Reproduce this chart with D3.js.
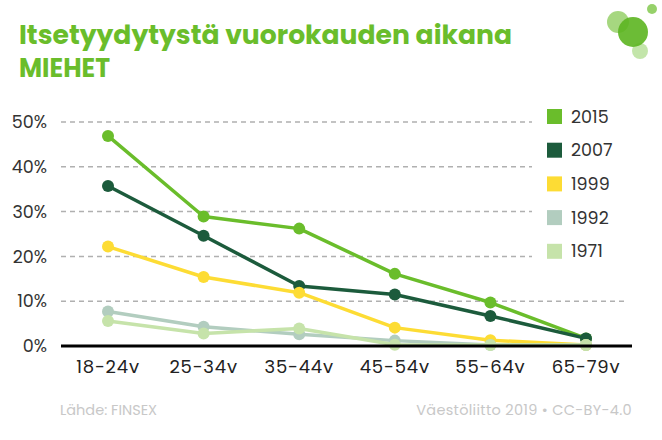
<!DOCTYPE html>
<html><head><meta charset="utf-8">
<script src="https://cdn.jsdelivr.net/npm/d3@7"></script>
<style>
html,body{margin:0;padding:0;background:#fff;}
svg{display:block;font-family:Poppins,Inter,"Noto Sans",sans-serif;}
</style></head>
<body>
<svg id="c" width="662" height="440"></svg>
<script>
const categories = ["18-24v","25-34v","35-44v","45-54v","55-64v","65-79v"];
const seriesNames = ["2015","2007","1999","1992","1971"];
const s2015 = [46.9, 28.9, 26.2, 16.1, 9.7, 1.7];
const s2007 = [35.7, 24.6, 13.4, 11.5, 6.7, 1.7];
const s1999 = [22.2, 15.4, 11.9, 4.1, 1.3, 0.2];
const s1992 = [7.7, 4.3, 2.6, 1.2, 0.2, 0.2];
const s1971 = [5.6, 2.8, 3.9, 0.3, 0.2, 0.2];
const yTicks = [0, 10, 20, 30, 40, 50];
const colors = ["#6abd2b", "#1c5b3c", "#fddc34", "#b2cdbf", "#c6e3aa"];
const seriesValues = [s2015, s2007, s1999, s1992, s1971];

const svg = d3.select("#c");
const x = d3.scalePoint().domain(categories).range([108, 586]);
const y = d3.scaleLinear().domain([0, 50]).range([346, 122]);

// title
svg.append("text").attr("x", 19).attr("y", 44).attr("fill", "#6abd2b")
  .attr("font-size", 26).attr("font-weight", 700)
  .attr("textLength", 493).attr("lengthAdjust", "spacingAndGlyphs")
  .text("Itsetyydytystä vuorokauden aikana");
svg.append("text").attr("x", 19).attr("y", 77).attr("fill", "#6abd2b")
  .attr("font-size", 26).attr("font-weight", 700)
  .attr("textLength", 91).attr("lengthAdjust", "spacingAndGlyphs")
  .text("MIEHET");

// logo
const logo = svg.append("g");
logo.append("circle").attr("cx", 618).attr("cy", 22).attr("r", 11).attr("fill", "#6abd2b").attr("opacity", 0.6);
logo.append("circle").attr("cx", 640).attr("cy", 51).attr("r", 8).attr("fill", "#6abd2b").attr("opacity", 0.4);
logo.append("circle").attr("cx", 633).attr("cy", 32).attr("r", 15).attr("fill", "#5cb520").attr("opacity", 0.9);
logo.append("circle").attr("cx", 652).attr("cy", 9).attr("r", 5).attr("fill", "#6abd2b").attr("opacity", 0.7);

// grid
svg.append("g").selectAll("line").data(yTicks.filter(d => d > 0)).join("line")
  .attr("x1", 61).attr("x2", d => d >= 20 ? 532 : 628)
  .attr("y1", d => y(d)).attr("y2", d => y(d))
  .attr("stroke", "#b0b0b0").attr("stroke-width", 1.5).attr("stroke-dasharray", "5,4");

// y labels
svg.append("g").selectAll("text").data(yTicks).join("text")
  .attr("x", 47).attr("y", d => y(d)).attr("dy", "0.35em")
  .attr("text-anchor", "end").attr("font-size", 17.5).attr("fill", "#333")
  .text(d => d + "%");

// x labels
svg.append("g").selectAll("text").data(categories).join("text")
  .attr("x", d => x(d)).attr("y", 373).attr("text-anchor", "middle")
  .attr("font-size", 18).attr("letter-spacing", 0.8).attr("fill", "#222").text(d => d);

// lines
const line = d3.line().x((d, i) => x(categories[i])).y(d => y(d));
seriesValues.forEach((vals, k) => {
  const g = svg.append("g");
  g.append("path").datum(vals).attr("d", line).attr("fill", "none")
    .attr("stroke", colors[k]).attr("stroke-width", 3.5).attr("stroke-linejoin", "round");
  g.selectAll("circle").data(vals).join("circle")
    .attr("cx", (d, i) => x(categories[i])).attr("cy", d => y(d)).attr("r", 6)
    .attr("fill", colors[k]);
});

// baseline
svg.append("line").attr("x1", 61).attr("x2", 632).attr("y1", y(0)).attr("y2", y(0))
  .attr("stroke", "#000").attr("stroke-width", 3);

// legend
const lg = svg.append("g").selectAll("g").data(seriesNames).join("g")
  .attr("transform", (d, i) => `translate(547,${109 + i * 33.7})`);
lg.append("rect").attr("width", 15).attr("height", 15).attr("fill", (d, i) => colors[i]);
lg.append("text").attr("x", 24).attr("y", 7.5).attr("dy", "0.35em")
  .attr("font-size", 17.5).attr("fill", "#333").text(d => d);

// footer
svg.append("text").attr("x", 60).attr("y", 415).attr("font-size", 14.5).attr("fill", "#c8c8c8")
  .text("Lähde: FINSEX");
svg.append("text").attr("x", 632).attr("y", 415).attr("text-anchor", "end").attr("font-size", 14.5).attr("fill", "#c8c8c8")
  .attr("letter-spacing", 0.3)
  .text("Väestöliitto 2019 • CC-BY-4.0");
</script>
</body></html>
